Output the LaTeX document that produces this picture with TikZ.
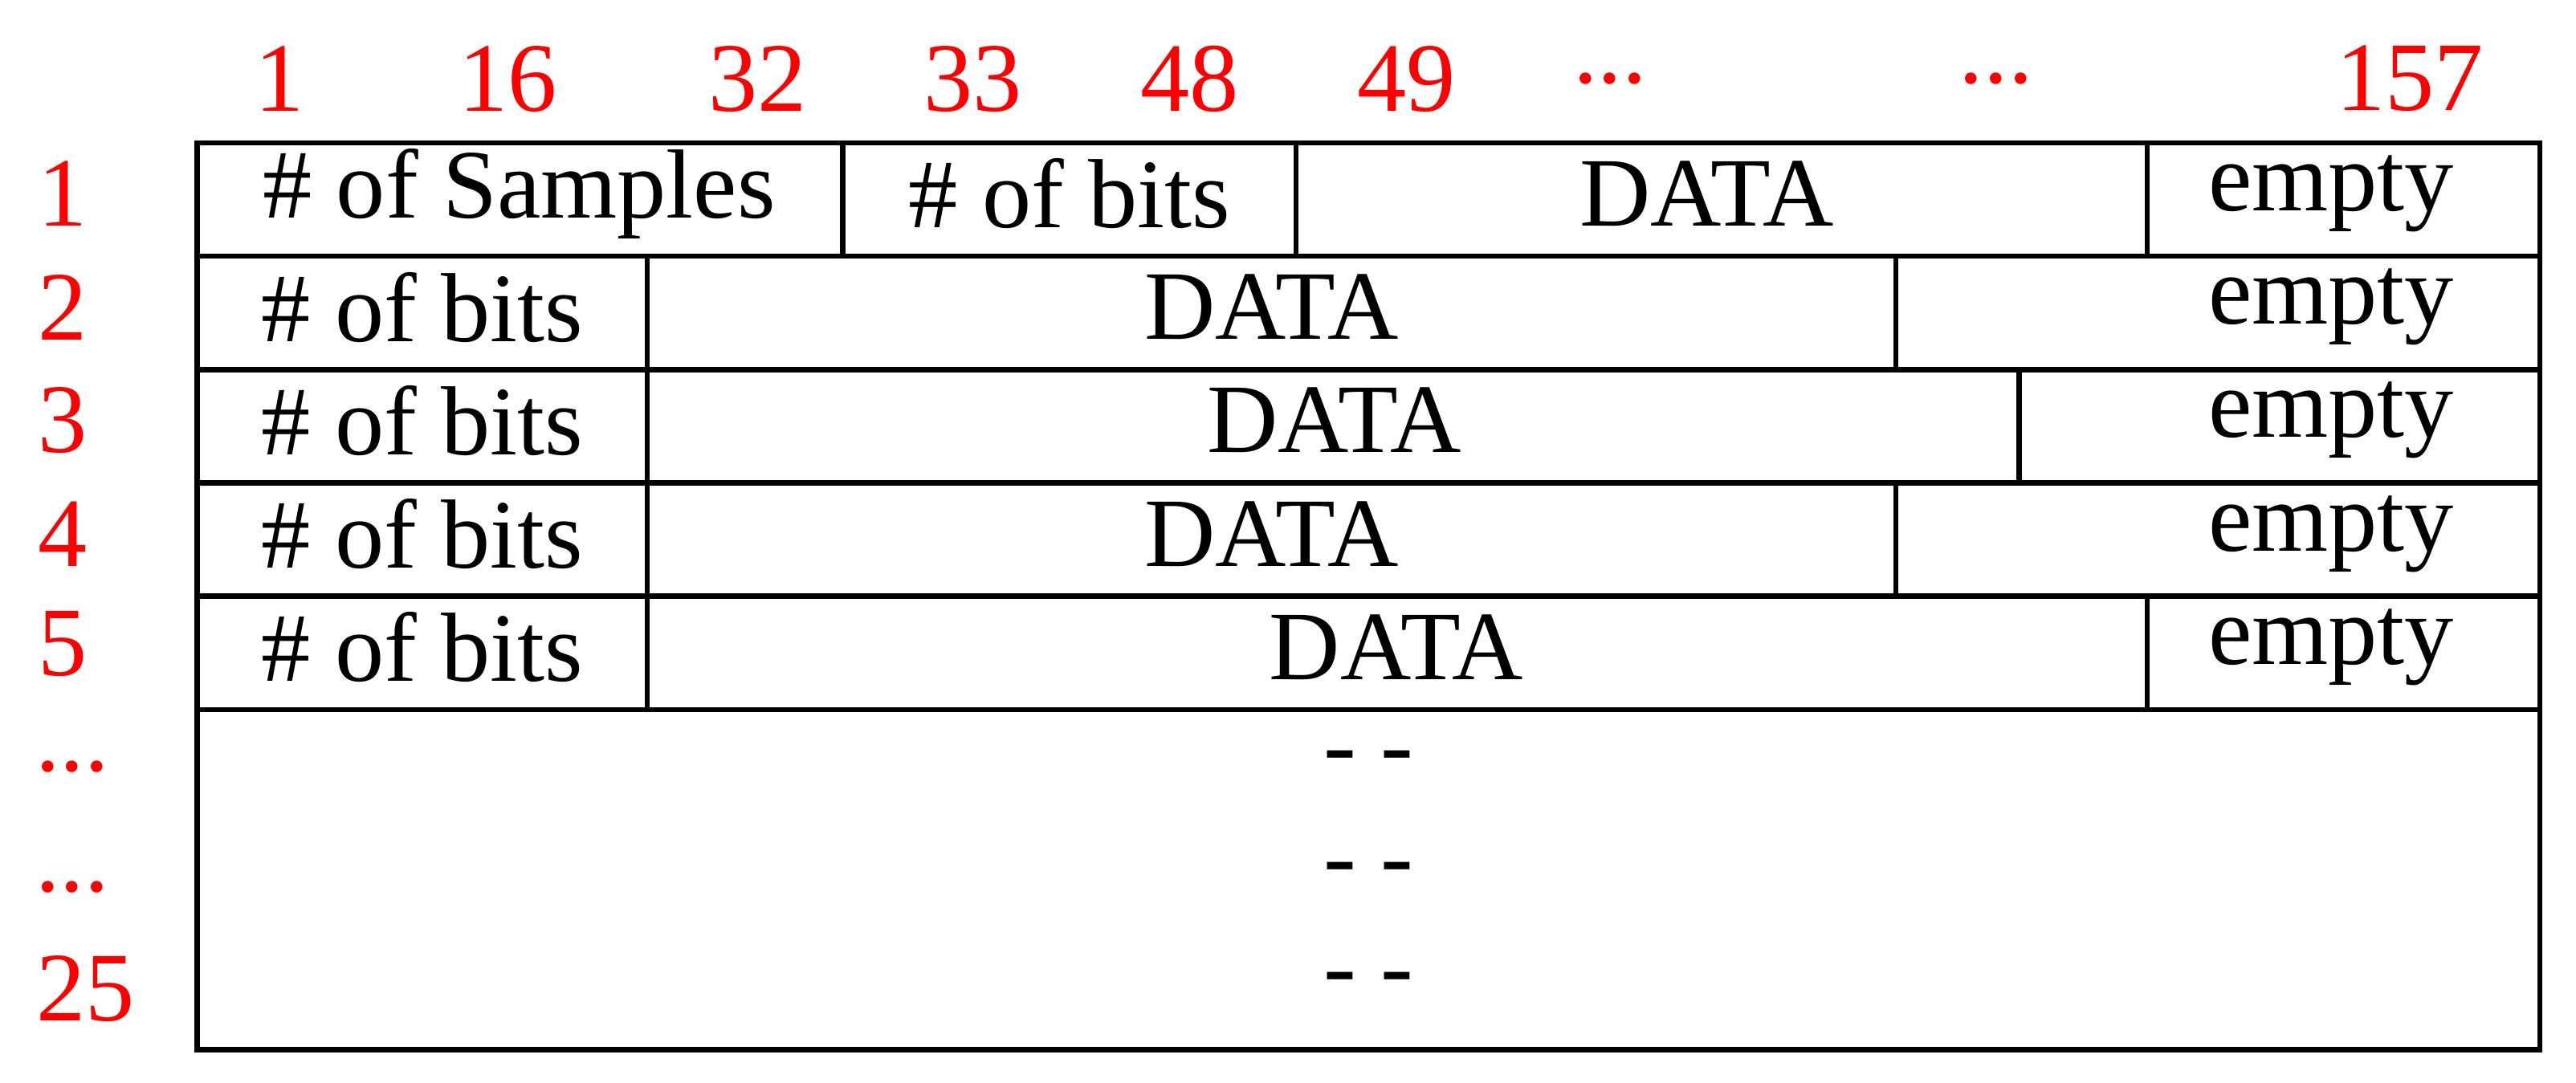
\documentclass[tikz,border=0pt]{standalone}
\usepackage{fontspec}
\setmainfont{Liberation Serif}
\begin{document}
\begin{tikzpicture}[x=0.01cm,y=-0.01cm,
  cell/.style={font=\fontsize{17}{20}\selectfont},
  lab/.style={font=\fontsize{17}{20}\selectfont,text=red},
  ln/.style={line width=0.9pt}]
\useasboundingbox (0,0) rectangle (1568,659);
% grid
\draw[ln] (120,87) rectangle (1546,639);
\foreach \y in {156,225,294,363,432} \draw[ln] (120,\y) -- (1546,\y);
\draw[ln] (513,87) -- (513,156); \draw[ln] (789,87) -- (789,156); \draw[ln] (1307,87) -- (1307,156);
\foreach \y in {156,225,294,363} \draw[ln] (394,\y) -- (394,\y+69);
\draw[ln] (1154,156) -- (1154,225);
\draw[ln] (1229,225) -- (1229,294);
\draw[ln] (1154,294) -- (1154,363);
\draw[ln] (1307,363) -- (1307,432);
% row texts
\node[cell] (s1) at (316,118) {\# of Samples};
\node[cell] (b1) at (651,118) {\# of bits};
\node[cell] (d1) at (1039,118) {DATA};
\node[cell,anchor=east] (e1) at (1506,118) {empty};
\node[cell] (b2) at (257,187) {\# of bits};
\node[cell] (d2) at (774,187) {DATA};
\node[cell,anchor=east] (e2) at (1506,187) {empty};
\node[cell] (b3) at (257,256) {\# of bits};
\node[cell] (d3) at (812,256) {DATA};
\node[cell,anchor=east] (e3) at (1506,256) {empty};
\node[cell] (b4) at (257,325) {\# of bits};
\node[cell] (d4) at (774,325) {DATA};
\node[cell,anchor=east] (e4) at (1506,325) {empty};
\node[cell] (b5) at (257,394) {\# of bits};
\node[cell] (d5) at (850,394) {DATA};
\node[cell,anchor=east] (e5) at (1506,394) {empty};
\node[cell] (g1) at (833,465) {\textit{- -}};
\node[cell] (g2) at (833,533) {\textit{- -}};
\node[cell] (g3) at (833,600) {\textit{- -}};
% top labels
\foreach \t/\x [count=\i] in {1/170,16/309,32/461,33/592,48/724,49/856,{...}/980,{...}/1215,157/1467}
  \node[lab] (t\i) at (\x,48) {\t};
% left labels
\foreach \t/\x/\y [count=\i] in {1/38/118,2/38/187,3/38/256,4/38/325,5/38/392,{...}/44/467,{...}/44/540,25/52/602}
  \node[lab] (l\i) at (\x,\y) {\t};
\end{tikzpicture}
\end{document}
